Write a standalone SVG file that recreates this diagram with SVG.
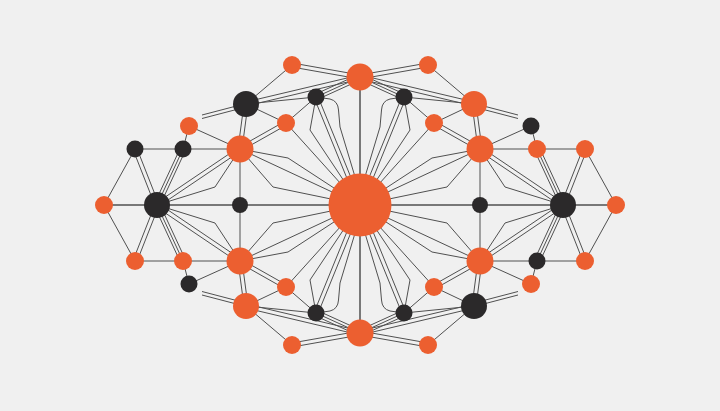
<svg xmlns="http://www.w3.org/2000/svg" width="720" height="411" viewBox="0 0 720 411">
<style>
.o{fill:#ec5f30}
.d{fill:#2b292a}
</style>
<defs>
<g id="q" fill="none" stroke="#505050" stroke-width="1" stroke-linejoin="round">
<path d="M360,77 V205 M104,205 H360 M240,149 V205 M135,149 H240 M104,205 L135,149 M189,126 L183,149 M189,126 L240,149 M292,65 L246,104 M246,104 L316,97 M246,104 L286,123 M316,97 L286,123 M286,123 L360,205"/>
<path d="M360.35,75.03 L292.35,63.03 M359.65,78.97 L291.65,66.97"/>
<path d="M246.46,105.95 L360.46,78.95 M245.54,102.05 L359.54,75.05"/>
<path d="M316,97 L360,77 M317.16,99.55 L361.16,79.55 M314.84,94.45 L358.84,74.45"/>
<path d="M244.02,103.74 L238.02,148.74 M247.98,104.26 L241.98,149.26"/>
<path d="M285.02,121.26 L239.02,147.26 M286.98,124.74 L240.98,150.74"/>
<path d="M314.15,97.75 L358.15,205.75 M317.85,96.25 L361.85,204.25"/>
<path d="M316,97 L310,130 L360,205"/>
<path d="M316,97 L330,99 Q338,101 338.5,110 L340,127 L359,190"/>
<path d="M240,149 L360,205 M240,149 L288,158 L360,205 M240,149 L273,187 L360,205"/>
<path d="M158.86,204.27 L136.86,148.27 M155.14,205.73 L133.14,149.73"/>
<path d="M157,205 L183,149 M159.54,206.18 L185.54,150.18 M154.46,203.82 L180.46,147.82"/>
<path d="M158.12,206.66 L241.12,150.66 M155.88,203.34 L238.88,147.34 M157,205 L215,187 L240,149"/>
<path d="M246,103.5 L202,115 M246,107 L202,118.5"/>
</g>
</defs>
<rect width="720" height="411" fill="#f0f0f0"/>
<g id="connectors">
<use href="#q"/>
<use href="#q" transform="matrix(-1 0 0 1 720 0)"/>
<use href="#q" transform="matrix(1 0 0 -1 0 410)"/>
<use href="#q" transform="matrix(-1 0 0 -1 720 410)"/>
</g>
<g id="nodes">
<g id="n-center"><circle class="o" cx="360" cy="205" r="31.5"/></g>
<g id="n-top"><circle class="o" cx="360" cy="77" r="13.5"/></g>
<g id="n-bottom"><circle class="o" cx="360" cy="333" r="13.5"/></g>
<g id="n-tl-s"><circle class="o" cx="292" cy="65" r="9"/></g>
<g id="n-tl-big"><circle class="d" cx="246" cy="104" r="13"/></g>
<g id="n-tl-d"><circle class="d" cx="316" cy="97" r="8.5"/></g>
<g id="n-tl-o"><circle class="o" cx="286" cy="123" r="9"/></g>
<g id="n-l1"><circle class="o" cx="240" cy="149" r="13.5"/></g>
<g id="n-lo"><circle class="o" cx="189" cy="126" r="9"/></g>
<g id="n-ld1"><circle class="d" cx="135" cy="149" r="8.5"/></g>
<g id="n-ld2"><circle class="d" cx="183" cy="149" r="8.5"/></g>
<g id="n-lmid"><circle class="d" cx="240" cy="205" r="8"/></g>
<g id="n-lbig"><circle class="d" cx="157" cy="205" r="13"/></g>
<g id="n-lend"><circle class="o" cx="104" cy="205" r="9"/></g>
<g id="n-tr-s"><circle class="o" cx="428" cy="65" r="9"/></g>
<g id="n-tr-big"><circle class="o" cx="474" cy="104" r="13"/></g>
<g id="n-tr-d"><circle class="d" cx="404" cy="97" r="8.5"/></g>
<g id="n-tr-o"><circle class="o" cx="434" cy="123" r="9"/></g>
<g id="n-r1"><circle class="o" cx="480" cy="149" r="13.5"/></g>
<g id="n-ro"><circle class="d" cx="531" cy="126" r="8.5"/></g>
<g id="n-ro1"><circle class="o" cx="537" cy="149" r="9"/></g>
<g id="n-ro2"><circle class="o" cx="585" cy="149" r="9"/></g>
<g id="n-rmid"><circle class="d" cx="480" cy="205" r="8"/></g>
<g id="n-rbig"><circle class="d" cx="563" cy="205" r="13"/></g>
<g id="n-rend"><circle class="o" cx="616" cy="205" r="9"/></g>
<g id="n-bl-s"><circle class="o" cx="292" cy="345" r="9"/></g>
<g id="n-bl-big"><circle class="o" cx="246" cy="306" r="13"/></g>
<g id="n-bl-d"><circle class="d" cx="316" cy="313" r="8.5"/></g>
<g id="n-bl-o"><circle class="o" cx="286" cy="287" r="9"/></g>
<g id="n-l2"><circle class="o" cx="240" cy="261" r="13.5"/></g>
<g id="n-lb"><circle class="d" cx="189" cy="284" r="8.5"/></g>
<g id="n-lb1"><circle class="o" cx="135" cy="261" r="9"/></g>
<g id="n-lb2"><circle class="o" cx="183" cy="261" r="9"/></g>
<g id="n-br-s"><circle class="o" cx="428" cy="345" r="9"/></g>
<g id="n-br-big"><circle class="d" cx="474" cy="306" r="13"/></g>
<g id="n-br-d"><circle class="d" cx="404" cy="313" r="8.5"/></g>
<g id="n-br-o"><circle class="o" cx="434" cy="287" r="9"/></g>
<g id="n-r2"><circle class="o" cx="480" cy="261" r="13.5"/></g>
<g id="n-rb"><circle class="o" cx="531" cy="284" r="9"/></g>
<g id="n-rb1"><circle class="d" cx="537" cy="261" r="8.5"/></g>
<g id="n-rb2"><circle class="o" cx="585" cy="261" r="9"/></g>
</g>
</svg>
